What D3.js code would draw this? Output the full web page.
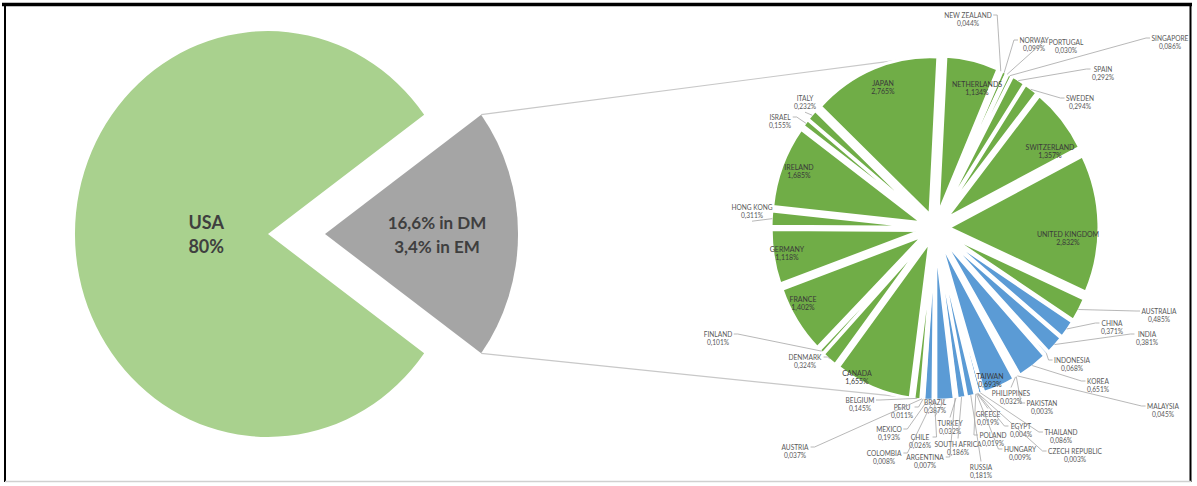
<!DOCTYPE html>
<html><head><meta charset="utf-8">
<script src="https://cdn.jsdelivr.net/npm/d3@7"></script>
<style>
html,body{margin:0;padding:0;background:#fff;}
svg{display:block;}
text{font-family:Lato,"Open Sans",sans-serif;}
</style></head>
<body>
<svg id="chart" width="1197" height="486"></svg>
<script>
// ---------- DATA ----------
const leftCategories = ["USA", "REST"];
const leftValues = [80, 20];
const leftLabels = [["USA", "80%"], ["16,6% in DM", "3,4% in EM"]];

const countries = ["NETHERLANDS","NEW ZEALAND","NORWAY","PORTUGAL","SINGAPORE","SPAIN","SWEDEN","SWITZERLAND","UNITED KINGDOM","AUSTRALIA",
  "CHINA","INDIA","INDONESIA","KOREA","MALAYSIA","PAKISTAN","PHILIPPINES","TAIWAN","THAILAND",
  "CZECH REPUBLIC","EGYPT","GREECE","HUNGARY","POLAND","RUSSIA","SOUTH AFRICA","TURKEY",
  "ARGENTINA","BRAZIL","CHILE","COLOMBIA","MEXICO","PERU",
  "AUSTRIA","BELGIUM","CANADA","DENMARK","FINLAND","FRANCE","GERMANY","HONG KONG","IRELAND","ISRAEL","ITALY","JAPAN"];
const weights = [1.134,0.044,0.099,0.030,0.086,0.292,0.294,1.357,2.832,0.485,
  0.371,0.381,0.068,0.651,0.045,0.003,0.032,0.693,0.086,
  0.003,0.004,0.019,0.009,0.019,0.181,0.186,0.032,
  0.007,0.387,0.026,0.008,0.193,0.011,
  0.037,0.145,1.655,0.324,0.101,1.402,1.118,0.311,1.685,0.155,0.232,2.765];
const markets = ["DM","DM","DM","DM","DM","DM","DM","DM","DM","DM",
  "EM","EM","EM","EM","EM","EM","EM","EM","EM",
  "EM","EM","EM","EM","EM","EM","EM","EM",
  "EM","EM","EM","EM","EM","EM",
  "DM","DM","DM","DM","DM","DM","DM","DM","DM","DM","DM","DM"];

// ---------- LAYOUT (label placement, not data) ----------
const insideLabels = new Set(["JAPAN","NETHERLANDS","SWITZERLAND","UNITED KINGDOM","IRELAND","GERMANY","FRANCE","CANADA","TAIWAN"]);
const labelPos = {
  "JAPAN":[883,83],"NETHERLANDS":[977,84],"SWITZERLAND":[1050,147],"UNITED KINGDOM":[1068,234],
  "IRELAND":[799,167],"GERMANY":[787,249],"FRANCE":[803,299],"CANADA":[857,373],"TAIWAN":[990,376],
  "NEW ZEALAND":[968,15],"NORWAY":[1034,40],"PORTUGAL":[1066,42],"SINGAPORE":[1170,38],"SPAIN":[1103,69],
  "SWEDEN":[1080,98],"ITALY":[805,98],"ISRAEL":[780,117],"HONG KONG":[752,207],"FINLAND":[718,334],
  "DENMARK":[805,357],"BELGIUM":[860,400],"AUSTRIA":[795,447],"PERU":[902,407],"MEXICO":[889,429],
  "COLOMBIA":[884,453],"CHILE":[920,437],"ARGENTINA":[925,457],"BRAZIL":[935,402],"TURKEY":[950,423],
  "SOUTH AFRICA":[958,444],"RUSSIA":[981,467],"GREECE":[988,414],"POLAND":[993,435],"HUNGARY":[1020,449],
  "EGYPT":[1021,426],"THAILAND":[1061,432],"CZECH REPUBLIC":[1075,451],"PAKISTAN":[1042,403],
  "PHILIPPINES":[1011,393],"MALAYSIA":[1163,406],"KOREA":[1098,381],"INDONESIA":[1072,360],
  "INDIA":[1147,334],"CHINA":[1112,323],"AUSTRALIA":[1159,311]
};

const colors = {USA:"#a9d18e", REST:"#a5a5a5", DM:"#70ad47", EM:"#5b9bd5"};
const sx = 0.97, sy = 1.02;
const deg = Math.PI/180;

const svg = d3.select("#chart");

// frame
svg.append("line").attr("x1",2).attr("x2",1192).attr("y1",4.5).attr("y2",4.5).attr("stroke","#000").attr("stroke-width",3.5);
svg.append("line").attr("x1",5).attr("x2",5).attr("y1",3).attr("y2",482).attr("stroke","#000").attr("stroke-width",2);
svg.append("line").attr("x1",1190.5).attr("x2",1190.5).attr("y1",3).attr("y2",482).attr("stroke","#000").attr("stroke-width",2);
svg.append("line").attr("x1",5).attr("x2",1191).attr("y1",481.5).attr("y2",481.5).attr("stroke","#d0d0d0").attr("stroke-width",1.5);

// ---------- LEFT PIE ----------
const L = {cx:268, cy:234, R:199, explode:57};
const leftPie = d3.pie().sort(null).value(d=>d)
  .startAngle(126*deg).endAngle(126*deg + 2*Math.PI);
const leftArcs = leftPie(leftValues);
const leftArc = d3.arc().innerRadius(0).outerRadius(L.R);
const lg = svg.append("g");
leftArcs.forEach((a,i)=>{
  const mid = (a.startAngle+a.endAngle)/2;
  const off = i===1 ? L.explode : 0;
  const ox = L.cx + off*Math.sin(mid), oy = L.cy - off*Math.cos(mid);
  a.ox = ox; a.oy = oy;
  lg.append("path").attr("d", leftArc(a))
    .attr("transform", `translate(${ox},${oy}) scale(${sx},${sy})`)
    .attr("fill", colors[leftCategories[i]]);
  const lr = i===0 ? 0.32*L.R : 0.58*L.R;
  const tx = ox + sx*lr*Math.sin(mid), ty = oy - sy*lr*Math.cos(mid);
  const t = lg.append("text").attr("text-anchor","middle").attr("fill","#3f3f3f")
    .attr("font-weight","bold").attr("font-size", i===0 ? 18 : 17);
  t.append("tspan").attr("x",tx).attr("y",ty-5).text(leftLabels[i][0]);
  t.append("tspan").attr("x",tx).attr("y",ty+19).text(leftLabels[i][1]);
});

// ---------- RIGHT PIE ----------
const P = {cx:935, cy:228, R:155, explode:14};
const startA = 3*deg;
const pie = d3.pie().sort(null).value(d=>d).startAngle(startA).endAngle(startA+2*Math.PI);
const arcs = pie(weights);
const arc = d3.arc().innerRadius(0).outerRadius(P.R);
const locale = d3.formatLocale({decimal:",", thousands:".", grouping:[3], currency:["","%"]});
const fmt = locale.format(".3f");

function toPage(angle, r, off){
  const x = off*Math.sin(angle) + r*Math.sin(angle);
  const y = -off*Math.cos(angle) - r*Math.cos(angle);
  return [P.cx + sx*x, P.cy + sy*y];
}

// connectors from the grey wedge to the right pie
const g1 = leftArcs[1];
const cornerA = [g1.ox + sx*L.R*Math.sin(g1.startAngle), g1.oy - sy*L.R*Math.cos(g1.startAngle)];
const cornerB = [g1.ox + sx*L.R*Math.sin(g1.endAngle), g1.oy - sy*L.R*Math.cos(g1.endAngle)];
const endA = toPage(-13.6*deg, P.R, P.explode);
const endB = toPage(191.6*deg, P.R, P.explode);
svg.append("line").attr("x1",cornerA[0]).attr("y1",cornerA[1]).attr("x2",endA[0]).attr("y2",endA[1])
  .attr("stroke","#c8c8c8").attr("stroke-width",1.2);
svg.append("line").attr("x1",cornerB[0]).attr("y1",cornerB[1]).attr("x2",endB[0]).attr("y2",endB[1])
  .attr("stroke","#c8c8c8").attr("stroke-width",1.2);

const pg = svg.append("g");
arcs.forEach((a,i)=>{
  const mid = (a.startAngle+a.endAngle)/2;
  const ox = P.cx + sx*P.explode*Math.sin(mid), oy = P.cy - sy*P.explode*Math.cos(mid);
  pg.append("path").attr("d", arc(a))
    .attr("transform", `translate(${ox},${oy}) scale(${sx},${sy})`)
    .attr("fill", colors[markets[i]])
    .attr("stroke","#fff").attr("stroke-width",3).attr("stroke-linejoin","round");
});

// labels
const labG = svg.append("g");
const leadG = svg.append("g");
arcs.forEach((a,i)=>{
  const name = countries[i];
  const pos = labelPos[name];
  const inside = insideLabels.has(name);
  const t = labG.append("text").attr("text-anchor","middle")
    .attr("font-size", inside ? 7 : 6.6).attr("fill", inside ? "#3a3a3a" : "#595959");
  t.append("tspan").attr("x",pos[0]).attr("y",pos[1]+2.5).text(name);
  t.append("tspan").attr("x",pos[0]).attr("y",pos[1]+11.2).text(fmt(weights[i])+"%");
  if(inside) return;
  const bb = t.node().getBBox();
  const mid = (a.startAngle+a.endAngle)/2;
  const pt = toPage(mid, P.R-1, P.explode);
  let sxp, syp;
  if(pt[0] < bb.x){ sxp = bb.x-1.5; syp = pos[1]; }
  else if(pt[0] > bb.x+bb.width){ sxp = bb.x+bb.width+1.5; syp = pos[1]; }
  else if(pt[1] < bb.y){ sxp = pos[0]; syp = bb.y-1; }
  else { sxp = pos[0]; syp = bb.y+bb.height+1; }
  const horiz = (pt[0] < bb.x || pt[0] > bb.x+bb.width);
  const kx = horiz ? sxp + (pt[0] < sxp ? -4 : 4) : sxp;
  leadG.append("polyline")
    .attr("points", `${sxp},${syp} ${kx},${syp} ${pt[0]},${pt[1]}`)
    .attr("fill","none").attr("stroke","#a6a6a6").attr("stroke-width",0.8);
});
</script>
</body></html>
